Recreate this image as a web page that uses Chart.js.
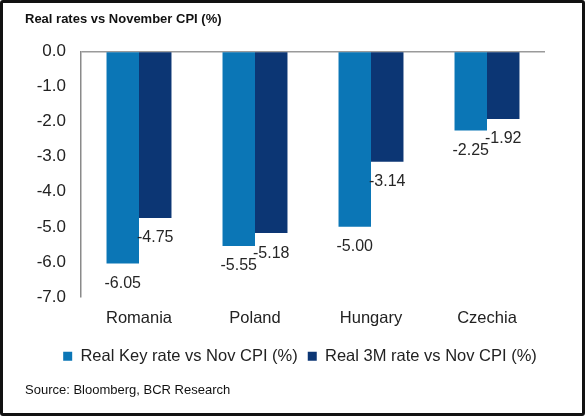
<!DOCTYPE html>
<html>
<head>
<meta charset="utf-8">
<script src="https://cdn.jsdelivr.net/npm/chart.js@4/dist/chart.umd.min.js"></script>
<style>
  html, body { margin: 0; padding: 0; background: #fff; }
  #wrap { position: relative; width: 585px; height: 416px; box-sizing: border-box; border: 3px solid #111; border-radius: 3px; background: #fff; }
  #c { display: block; }
</style>
</head>
<body>
<div id="wrap"><canvas id="c" width="579" height="410"></canvas></div>
<script>
const categories = ['Romania', 'Poland', 'Hungary', 'Czechia'];
const seriesNames = ['Real Key rate vs Nov CPI (%)', 'Real 3M rate vs Nov CPI (%)'];
const realKeyRate = [-6.05, -5.55, -5.00, -2.25];
const real3MRate = [-4.75, -5.18, -3.14, -1.92];
const yTicks = [0, -1, -2, -3, -4, -5, -6, -7];
const titleText = 'Real rates vs November CPI (%)';
const sourceText = 'Source: Bloomberg, BCR Research';

const FONT = "'Liberation Sans', Arial, sans-serif";

const labelPlugin = {
  id: 'barLabels',
  afterDatasetsDraw(chart) {
    const ctx = chart.ctx;
    ctx.save();
    ctx.font = '16px ' + FONT;
    ctx.fillStyle = '#262626';
    ctx.textAlign = 'center';
    ctx.textBaseline = 'middle';
    chart.data.datasets.forEach((ds, di) => {
      const meta = chart.getDatasetMeta(di);
      meta.data.forEach((el, i) => {
        ctx.fillText(ds.data[i].toFixed(2), el.x, el.y + 20);
      });
    });
    ctx.restore();
  }
};

new Chart(document.getElementById('c'), {
  type: 'bar',
  data: {
    labels: categories,
    datasets: [
      { label: seriesNames[0], data: realKeyRate, backgroundColor: '#0b76b6', categoryPercentage: 0.56, barPercentage: 1.0 },
      { label: seriesNames[1], data: real3MRate, backgroundColor: '#0c3674', categoryPercentage: 0.56, barPercentage: 1.0 }
    ]
  },
  options: {
    responsive: false,
    animation: false,
    layout: { padding: { left: 22, right: 7, top: 0, bottom: 15 } },
    plugins: {
      title: {
        display: true, text: titleText, align: 'start', color: '#111',
        font: { family: FONT, size: 13, weight: 'bold' },
        padding: { top: 9, bottom: 24 }
      },
      subtitle: {
        display: true, text: sourceText, position: 'bottom', align: 'start', color: '#111',
        font: { family: FONT, size: 13 },
        padding: { top: 8, bottom: 0 }
      },
      legend: {
        position: 'bottom',
        labels: {
          boxWidth: 9, boxHeight: 9, padding: 10, color: '#222',
          font: { family: FONT, size: 16.5 }
        }
      },
      tooltip: { enabled: false }
    },
    scales: {
      x: {
        grid: { display: false, drawTicks: false },
        border: { display: false },
        ticks: { color: '#222', font: { family: FONT, size: 16.5 }, padding: 12 },
        afterFit(s) { s.height = 41; }
      },
      y: {
        min: -7, max: 0,
        afterBuildTicks(s) { s.ticks = yTicks.map(v => ({ value: v })); },
        grid: {
          drawTicks: false,
          color: (c) => (c.tick && c.tick.value === 0) ? '#9a9a9a' : 'rgba(0,0,0,0)',
          lineWidth: 1.5
        },
        border: { display: true, color: '#8a8a8a', width: 1.5 },
        ticks: { color: '#222', font: { family: FONT, size: 17 }, padding: 15, callback: (v) => Number(v).toFixed(1) },
        afterFit(s) { s.width = 56; }
      },
      yRight: {
        position: 'right', min: -7, max: 0,
        display: true,
        grid: { display: false, drawTicks: false },
        border: { display: false },
        ticks: { display: false },
        afterFit(s) { s.width = 30; }
      }
    }
  },
  plugins: [labelPlugin]
});
</script>
</body>
</html>
